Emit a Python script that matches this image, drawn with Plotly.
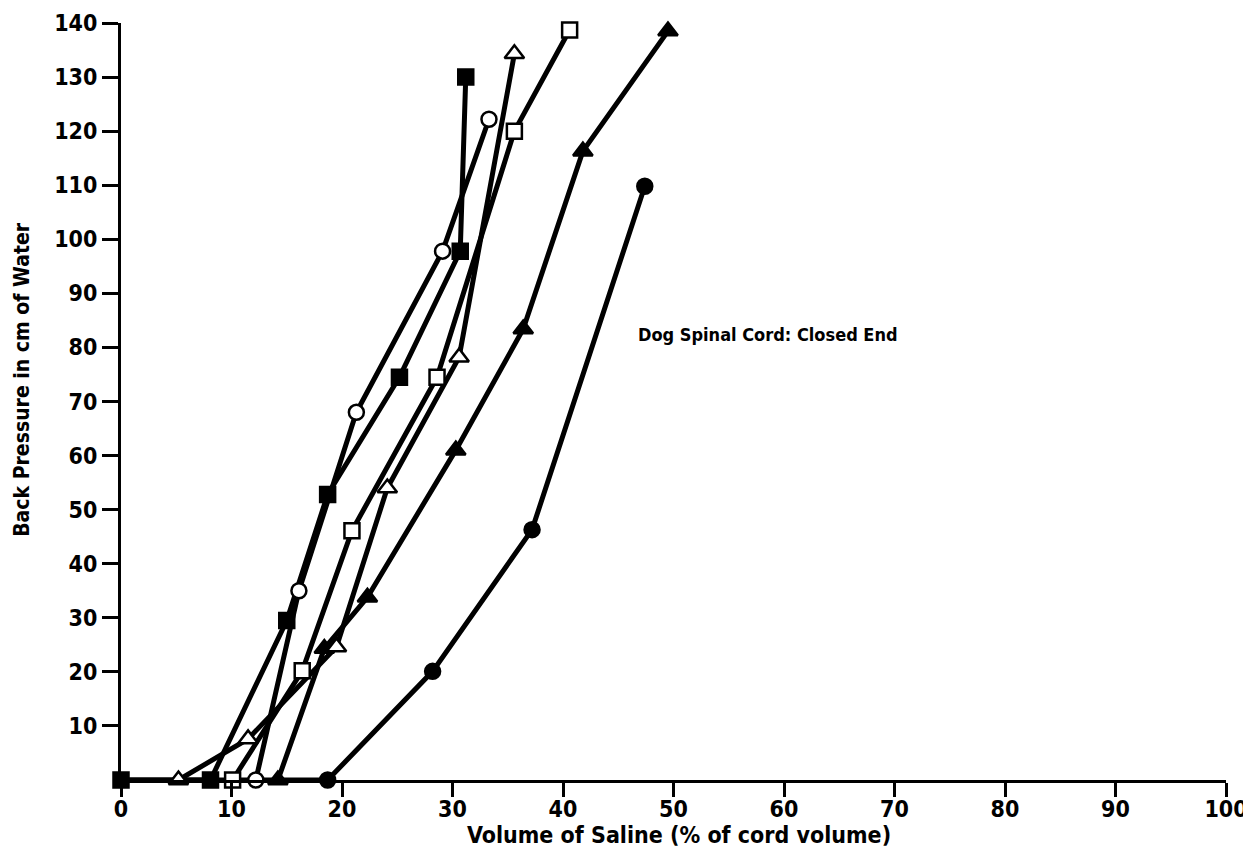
import plotly.graph_objects as go

# ---- data ----
sq_filled_x = [0, 8.1, 15.0, 18.7, 25.2, 30.7, 31.2]
sq_filled_y = [0, 0, 29.5, 52.8, 74.5, 97.8, 130]

circ_open_x = [12.2, 16.1, 21.3, 29.1, 33.3]
circ_open_y = [0, 35, 68, 97.8, 122.2]

sq_open_x = [10.1, 16.4, 20.9, 28.6, 35.6, 40.6]
sq_open_y = [0, 20.2, 46.1, 74.5, 120, 138.7]

tri_open_x = [5.2, 11.5, 19.5, 24.1, 30.6, 35.6]
tri_open_y = [0, 7.6, 24.6, 54.0, 78.2, 134.3]

tri_filled_x = [14.2, 18.4, 22.3, 30.3, 36.4, 41.8, 49.5]
tri_filled_y = [0, 24.3, 33.8, 61.0, 83.4, 116.3, 138.5]

circ_filled_x = [0, 18.7, 28.2, 37.2, 47.4]
circ_filled_y = [0, 0, 20.1, 46.3, 109.8]

x_ticks = [0, 10, 20, 30, 40, 50, 60, 70, 80, 90, 100]
y_ticks = [10, 20, 30, 40, 50, 60, 70, 80, 90, 100, 110, 120, 130, 140]

x_title = "Volume of Saline (% of cord volume)"
y_title = "Back Pressure in cm of Water"
note = "Dog Spinal Cord: Closed End"

FONT = "DejaVu Sans Condensed, Liberation Sans Narrow, Arial Narrow, sans-serif"

series = [
    (sq_filled_x, sq_filled_y, "square", True),
    (circ_filled_x, circ_filled_y, "circle", True),
    (tri_filled_x, tri_filled_y, "triangle-up", True),
    (tri_open_x, tri_open_y, "triangle-up", False),
    (sq_open_x, sq_open_y, "square", False),
    (circ_open_x, circ_open_y, "circle", False),
]

fig = go.Figure()

# lines first
for xs, ys, sym, filled in series:
    fig.add_trace(go.Scatter(
        x=xs, y=ys, mode="lines",
        line=dict(color="black", width=5),
        cliponaxis=False, showlegend=False, hoverinfo="skip"))

# markers on top
for xs, ys, sym, filled in series:
    base = 17 if sym == "triangle-up" else 15
    sizes = [base] * len(xs)
    if sym == "circle" and filled:
        sizes[0] = 0  # shared origin point drawn by the square series
    fig.add_trace(go.Scatter(
        x=xs, y=ys, mode="markers",
        marker=dict(symbol=sym, size=sizes, opacity=1,
                    color="black" if filled else "white",
                    line=dict(color="black", width=2.5)),
        cliponaxis=False, showlegend=False))

fig.add_annotation(
    x=46.6, y=82.4, xref="x", yref="y", text=note, showarrow=False,
    xanchor="left", yanchor="middle",
    font=dict(family=FONT, size=18, color="black", weight="bold"))

fig.add_annotation(
    x=0.505, y=-0.073, xref="paper", yref="paper", text=x_title, showarrow=False,
    xanchor="center", yanchor="middle",
    font=dict(family=FONT, size=23, color="black", weight="bold"))

fig.add_annotation(
    x=-0.0896, y=0.53, xref="paper", yref="paper", text=y_title, showarrow=False,
    textangle=-90, xanchor="center", yanchor="middle",
    font=dict(family=FONT, size=21, color="black", weight="bold"))

fig.update_layout(
    width=1243, height=850,
    margin=dict(l=113, r=25, t=15, b=78, autoexpand=False),
    paper_bgcolor="white", plot_bgcolor="white",
    font=dict(family=FONT, color="black", weight="bold"),
    xaxis=dict(range=[0, 100], tickvals=x_ticks,
               ticktext=[str(v) for v in x_ticks],
               showgrid=False, zeroline=False, showline=True,
               linecolor="black", linewidth=3, automargin=False,
               ticks="outside", ticklen=14, tickwidth=2.5, tickcolor="black",
               ticklabelstandoff=-8,
               tickfont=dict(family=FONT, size=23, color="black", weight="bold")),
    yaxis=dict(range=[0, 140], tickvals=y_ticks,
               ticktext=[str(v) for v in y_ticks],
               showgrid=False, zeroline=False, showline=True,
               linecolor="black", linewidth=3, automargin=False,
               ticks="outside", ticklen=16, tickwidth=2.5, tickcolor="black",
               tickfont=dict(family=FONT, size=23, color="black", weight="bold")),
)

fig.write_html("out.html")
